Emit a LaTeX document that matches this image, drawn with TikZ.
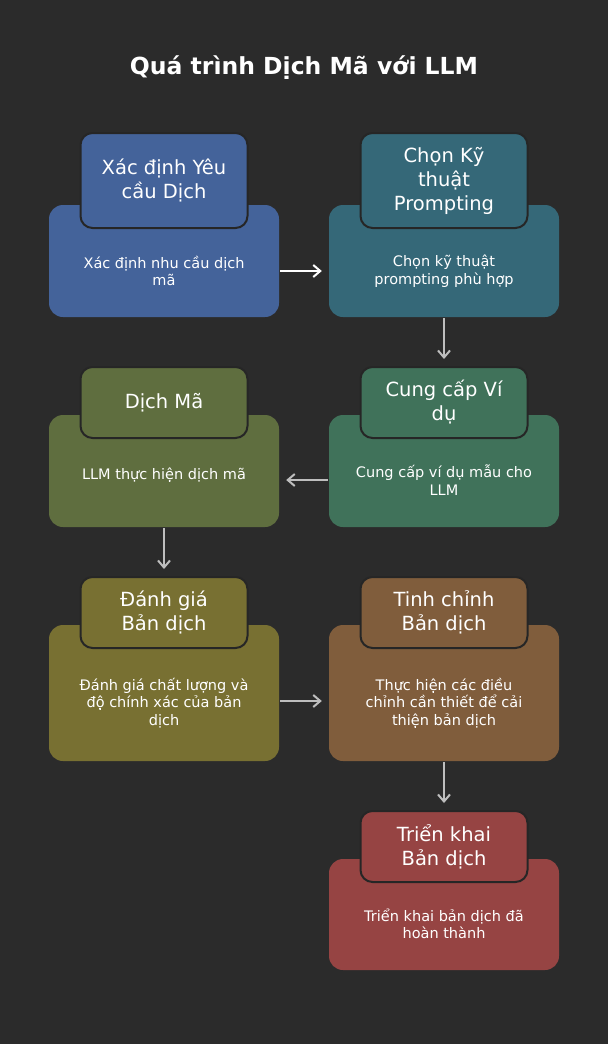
\documentclass[tikz,border=0pt]{standalone}
\usepackage{fontspec}
\setmainfont{DejaVu Sans}
\usetikzlibrary{arrows.meta}
\definecolor{bg}{HTML}{2B2B2B}
\definecolor{hdline}{HTML}{262626}
\definecolor{cblue}{HTML}{44639A}
\definecolor{cteal}{HTML}{356878}
\definecolor{colg}{HTML}{5F6E3F}
\definecolor{cgreen}{HTML}{40725A}
\definecolor{colive}{HTML}{787032}
\definecolor{cbrown}{HTML}{805D3C}
\definecolor{cred}{HTML}{964443}
\definecolor{arrgray}{HTML}{BEBEBE}
\begin{document}
\begin{tikzpicture}[x=1pt,y=-1pt,
  bigbox/.style={rounded corners=14pt, minimum width=230pt, minimum height=#1, inner sep=0pt},
  headbox/.style={rounded corners=12pt, draw=hdline, line width=2pt, minimum width=167pt, minimum height=#1,
    inner sep=0pt, text=white, font=\fontsize{19.5}{24}\selectfont, align=center},
  bodytxt/.style={text=white, font=\fontsize{14.5}{17.5}\selectfont, align=center, minimum width=230pt, inner sep=0pt},
  conn/.style={line width=2pt, shorten >=7pt, shorten <=1pt, -{Straight Barb[length=7pt,width=12pt,line width=2pt]}}
]
\useasboundingbox (0,0) rectangle (608,1044);
\fill[bg] (0,0) rectangle (608,1044);

\node[text=white, font=\bfseries\fontsize{23.5}{28}\selectfont] (title) at (304,68) {Quá trình Dịch Mã với LLM};

% Row 1
\node[bigbox=112pt, fill=cblue] (b1) at (164,261) {};
\node[headbox=95pt, fill=cblue] (h1) at (164,180.5) {Xác định Yêu\\cầu Dịch};
\node[bodytxt] (t1) at (164,271) {Xác định nhu cầu dịch\\mã};

\node[bigbox=112pt, fill=cteal] (b2) at (444,261) {};
\node[headbox=95pt, fill=cteal] (h2) at (444,180.5) {Chọn Kỹ\\thuật\\Prompting};
\node[bodytxt] (t2) at (444,271) {Chọn kỹ thuật\\prompting phù hợp};

% Row 2
\node[bigbox=112pt, fill=cgreen] (b3) at (444,471) {};
\node[headbox=71pt, fill=cgreen] (h3) at (444,402.5) {Cung cấp Ví\\dụ};
\node[bodytxt] (t3) at (444,480) {Cung cấp ví dụ mẫu cho\\LLM};

\node[bigbox=112pt, fill=colg] (b4) at (164,471) {};
\node[headbox=71pt, fill=colg] (h4) at (164,402.5) {Dịch Mã};
\node[bodytxt] (t4) at (164,475) {LLM thực hiện dịch mã};

% Row 3
\node[bigbox=136pt, fill=colive] (b5) at (164,693) {};
\node[headbox=71pt, fill=colive] (h5) at (164,612.5) {Đánh giá\\Bản dịch};
\node[bodytxt] (t5) at (164,703) {Đánh giá chất lượng và\\độ chính xác của bản\\dịch};

\node[bigbox=136pt, fill=cbrown] (b6) at (444,693) {};
\node[headbox=71pt, fill=cbrown] (h6) at (444,612.5) {Tinh chỉnh\\Bản dịch};
\node[bodytxt] (t6) at (444,703) {Thực hiện các điều\\chỉnh cần thiết để cải\\thiện bản dịch};

% Row 4
\node[bigbox=111pt, fill=cred] (b7) at (444,914.5) {};
\node[headbox=71pt, fill=cred] (h7) at (444,846.5) {Triển khai\\Bản dịch};
\node[bodytxt] (t7) at (444,924) {Triển khai bản dịch đã\\hoàn thành};

% Connectors
\draw[conn, white] (t1.east) -- (t2.west);
\draw[conn, arrgray] (b2.south) -- (h3.north);
\draw[conn, arrgray] (t3.west) -- (b4.east |- t3.west);
\draw[conn, arrgray] (b4.south) -- (h5.north);
\draw[conn, arrgray] (t5.east |- 0,701) -- (t6.west |- 0,701);
\draw[conn, arrgray] (b6.south) -- (h7.north);
\end{tikzpicture}
\end{document}
